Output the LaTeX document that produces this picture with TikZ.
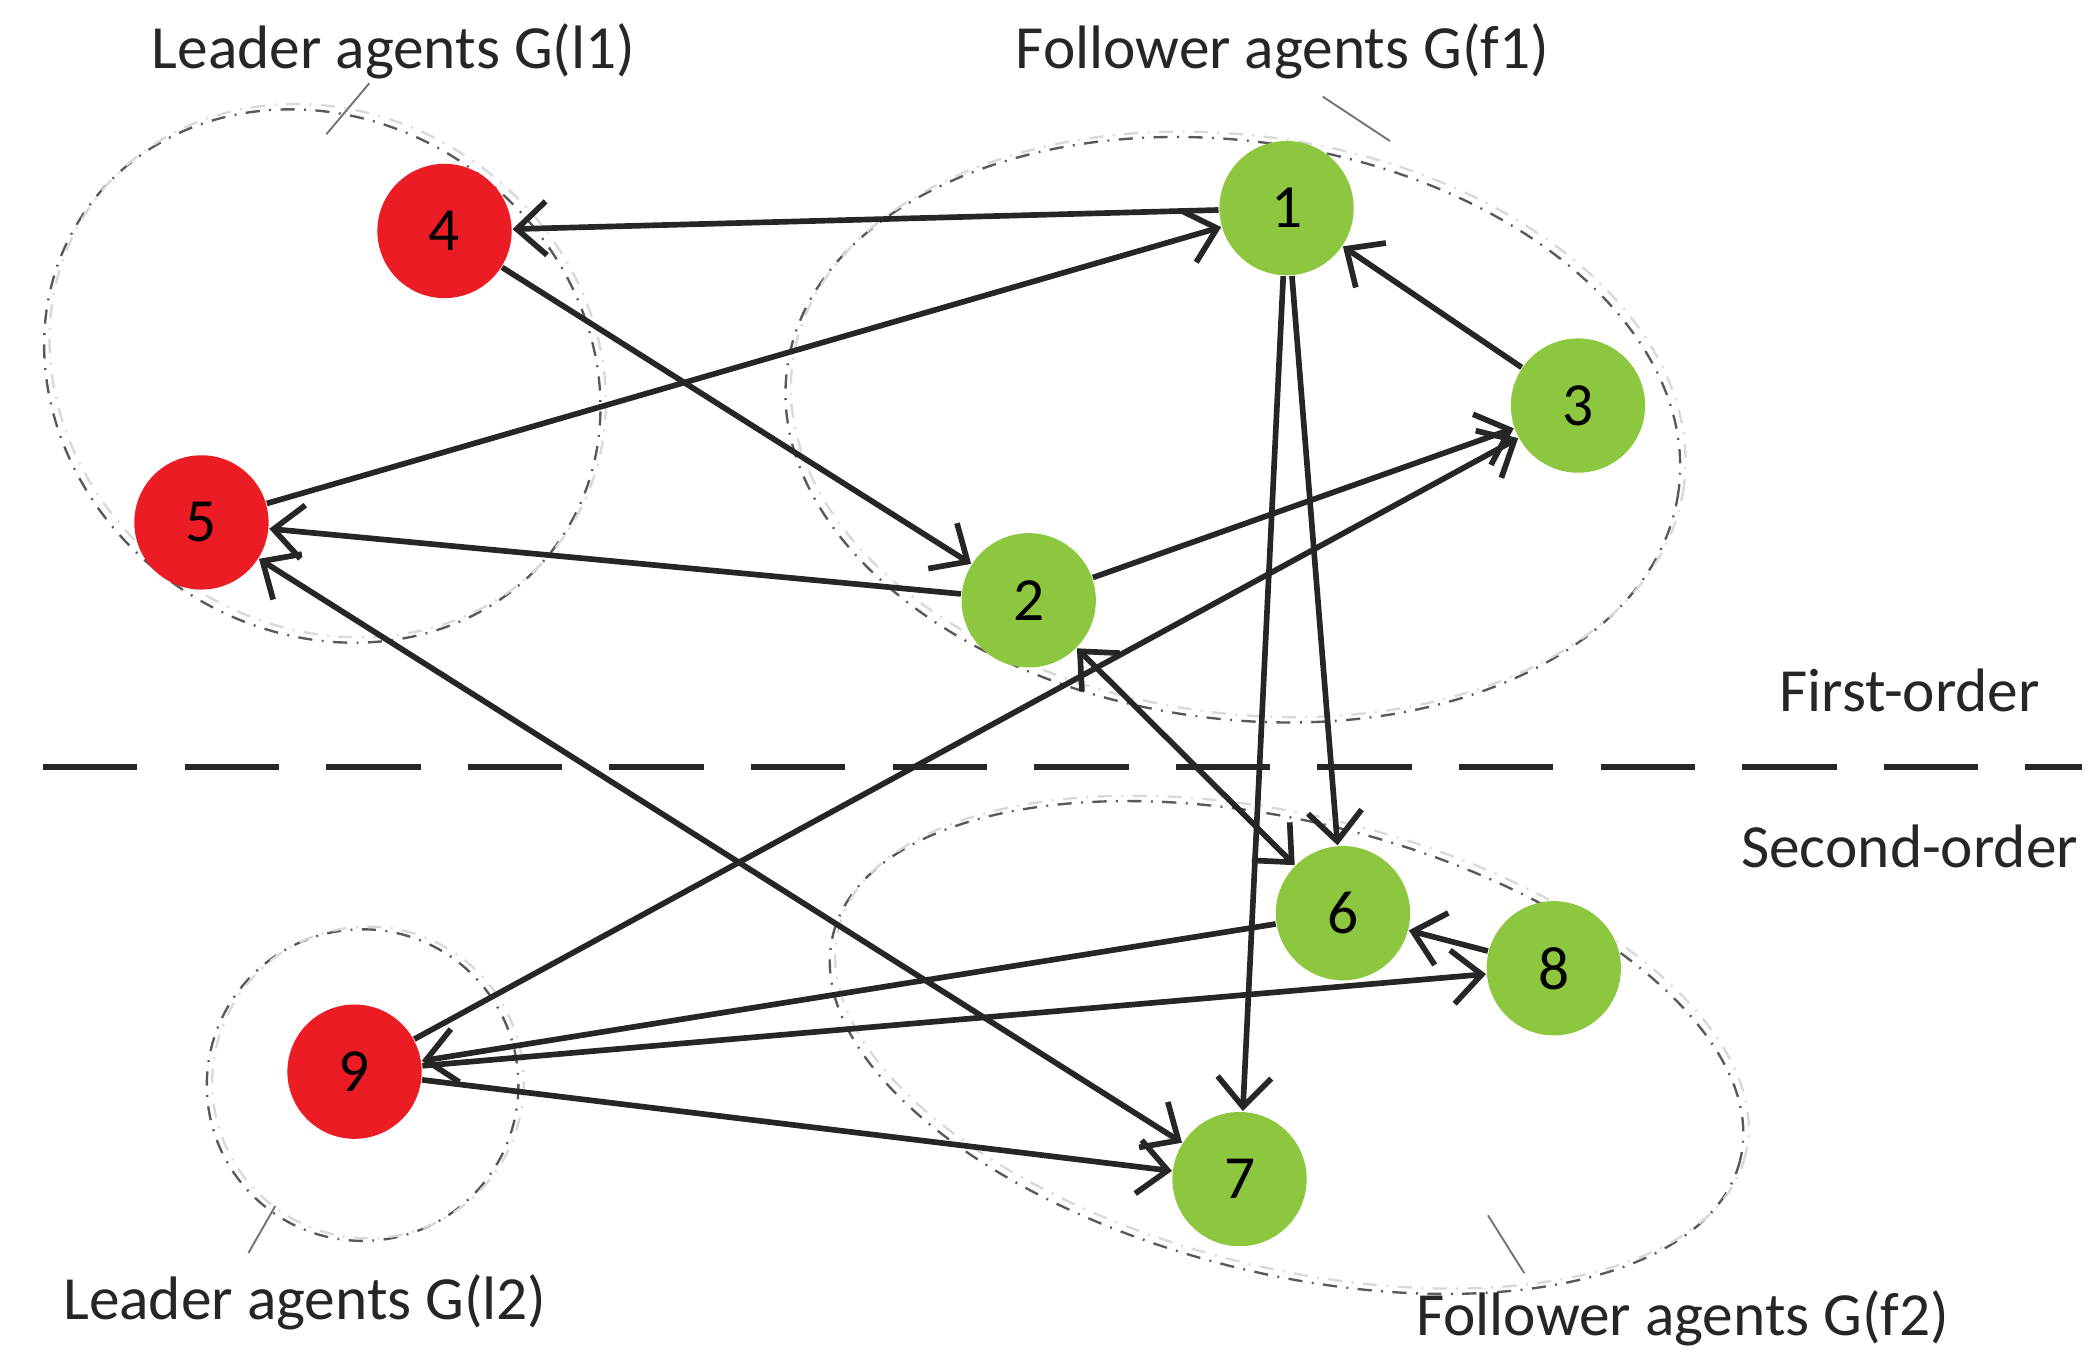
\documentclass[tikz,border=0pt]{standalone}
\usepackage{fontspec}
\setmainfont{Carlito}
\usetikzlibrary{arrows.meta,positioning}
\definecolor{leadred}{RGB}{236,28,36}
\definecolor{follgreen}{RGB}{141,198,63}
\tikzstyle{leader} = [circle, fill=leadred, minimum size=1cm, inner sep=0pt, font=\fontsize{13}{13}\selectfont]
\tikzstyle{follower} = [circle, fill=follgreen, minimum size=1cm, inner sep=0pt, font=\fontsize{13}{13}\selectfont]
\tikzstyle{line} = [draw, line width=1.2pt, color=black!85, -{Straight Barb[length=2.2mm,width=4mm,line width=1.2pt]}]
\tikzstyle{both} = [{Straight Barb[length=2.2mm,width=4mm,line width=1.2pt]}-{Straight Barb[length=2.2mm,width=4mm,line width=1.2pt]}]
\tikzstyle{group} = [draw=black!65, dash dot, line width=0.5pt]
\tikzstyle{groupb} = [draw=black!15, dash dot, line width=0.5pt]
\tikzstyle{lbl} = [font=\fontsize{13}{13}\selectfont, text=black!85]
\begin{document}
\begin{tikzpicture}[x=0.1mm, y=-0.1mm]
	\useasboundingbox (0,0) rectangle (1560,1007);
	% Groups
	\draw [group] (240,280) ellipse [x radius=215, y radius=190, rotate=-35];
	\draw [groupb] (244,276) ellipse [x radius=215, y radius=190, rotate=-35];
	\draw [group] (918,320) ellipse [x radius=335, y radius=215, rotate=-8];
	\draw [groupb] (922,316) ellipse [x radius=335, y radius=215, rotate=-8];
	\draw [group] (270,808) circle [radius=116];
	\draw [groupb] (274,806) circle [radius=116];
	\draw [group] (958,780) ellipse [x radius=348, y radius=168, rotate=-14];
	\draw [groupb] (962,776) ellipse [x radius=348, y radius=168, rotate=-14];
	% Agents
	\node [follower] at (958,155) (n1) {1};
	\node [follower] at (766,447) (n2) {2};
	\node [follower] at (1175,302) (n3) {3};
	\node [leader] at (331,172) (n4) {4};
	\node [leader] at (150,389) (n5) {5};
	\node [follower] at (1000,680) (n6) {6};
	\node [follower] at (923,878) (n7) {7};
	\node [follower] at (1157,721) (n8) {8};
	\node [leader] at (264,798) (n9) {9};
	% Labels
	\node [lbl] at (293,38) (tl1) {Leader agents G(l1)};
	\node [lbl] at (955,38) (tf1) {Follower agents G(f1)};
	\node [lbl] at (227,970) (tl2) {Leader agents G(l2)};
	\node [lbl] at (1253,982) (tf2) {Follower agents G(f2)};
	\node [lbl] at (1422,514) (tfo) {First-order};
	\node [lbl] at (1422,630) (tso) {Second-order};
	\draw [black!55, line width=0.4pt] (275,62) -- (243,100);
	\draw [black!55, line width=0.4pt] (985,72) -- (1035,105);
	\draw [black!55, line width=0.4pt] (185,933) -- (205,898);
	\draw [black!55, line width=0.4pt] (1135,948) -- (1108,905);
	% Order split
	\draw [dash pattern=on 20pt off 10pt, line width=1.3pt, black!85] (32,571) -- (1550,571);
	% Edges
	\path [line] (n1) -- (n4);
	\path [line] (n5) -- (n1);
	\path [line] (n4) -- (n2);
	\path [line] (n2) -- (n5);
	\path [line] (n2) -- (n3);
	\path [line] (n3) -- (n1);
	\path [line] (n1) -- (n7);
	\path [line] (n1) -- (n6);
	\path [line] (n9) -- (n3);
	\path [line, both] (n5) -- (n7);
	\path [line, both] (n2) -- (n6);
	\path [line] (n8) -- (n6);
	\path [line] (n6) -- (n9);
	\path [line] (n9) -- (n8);
	\path [line] (n9) -- (n7);
\end{tikzpicture}
\end{document}
